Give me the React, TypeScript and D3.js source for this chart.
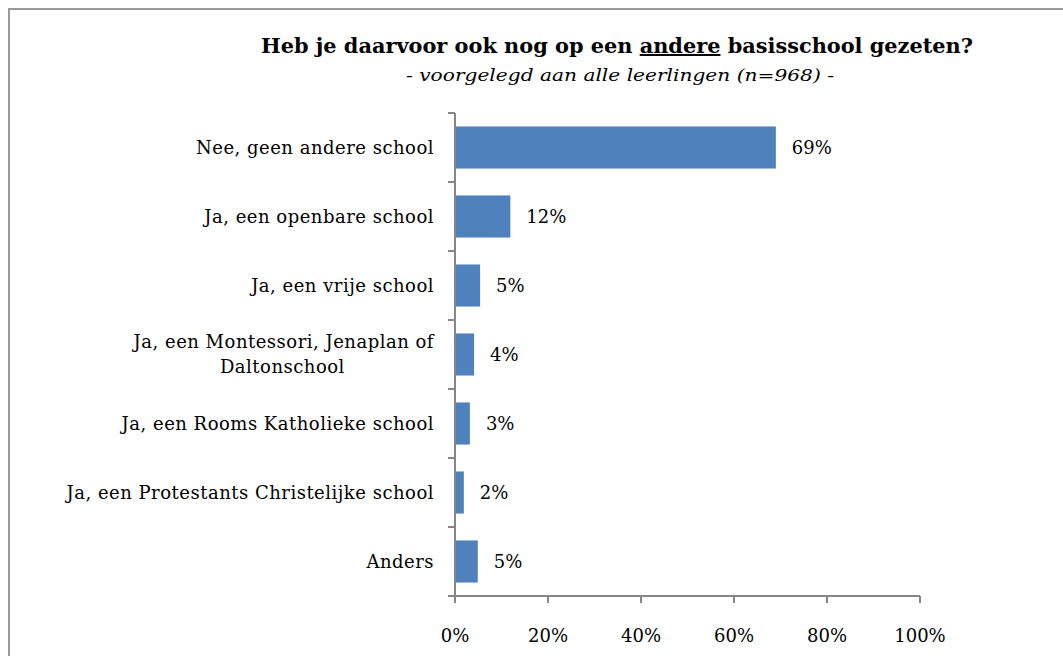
import * as d3 from 'd3';
import React, { useLayoutEffect, useRef, useState } from 'react';

// chart data
const categories = [
  "Nee, geen andere school",
  "Ja, een openbare school",
  "Ja, een vrije school",
  "Ja, een Montessori, Jenaplan of Daltonschool",
  "Ja, een Rooms Katholieke school",
  "Ja, een Protestants Christelijke school",
  "Anders"
];
const categoryLines = [
  ["Nee, geen andere school"],
  ["Ja, een openbare school"],
  ["Ja, een vrije school"],
  ["Ja, een Montessori, Jenaplan of", "Daltonschool"],
  ["Ja, een Rooms Katholieke school"],
  ["Ja, een Protestants Christelijke school"],
  ["Anders"]
];
const values = [69.0, 11.9, 5.4, 4.1, 3.2, 1.9, 4.9];
const xTicks = [0, 20, 40, 60, 80, 100];

const W = 1063;
const H = 656;
const font = "'DejaVu Serif', serif";
const axisColor = "#868686";
const barColor = "#4F81BD";
const labelSize = 18;
const labelSpacing = 0.5;

// multi-line label: block is right aligned, lines centred on each other
function CategoryLabel({ lines, xRight, cy }: { lines: string[]; xRight: number; cy: number }) {
  const ref = useRef<SVGTextElement>(null);
  const [w, setW] = useState(0);
  useLayoutEffect(() => {
    if (ref.current) setW(ref.current.getBBox().width);
  }, []);
  const lh = 25;
  if (lines.length === 1) {
    return (
      <text x={xRight} y={cy} dy="0.35em" textAnchor="end" fontFamily={font} fontSize={labelSize}
        letterSpacing={labelSpacing} fill="#000">{lines[0]}</text>
    );
  }
  const cx = xRight - w / 2;
  return (
    <g>
      {lines.map((l, j) => (
        <text key={j} ref={j === 0 ? ref : undefined}
          x={j === 0 ? xRight : cx} y={cy + (j - (lines.length - 1) / 2) * lh} dy="0.35em"
          textAnchor={j === 0 ? "end" : "middle"} fontFamily={font} fontSize={labelSize}
          letterSpacing={labelSpacing} fill="#000">{l}</text>
      ))}
    </g>
  );
}

export default function App() {
  const plot = { left: 455, right: 920, top: 113, bottom: 596 };

  const x = d3.scaleLinear().domain([0, 100]).range([plot.left, plot.right]);
  const y = d3.scaleBand<string>()
    .domain(categories)
    .range([plot.top, plot.bottom])
    .paddingInner(0.39)
    .paddingOuter(0.195);

  const step = y.step();
  const boundaries = d3.range(categories.length + 1).map(i => plot.top + i * step);

  return (
    <svg width={W} height={H} style={{ position: 'absolute', left: 0, top: 0, display: 'block' }}>
      <rect x={0} y={0} width={W} height={H} fill="white" />
      {/* chart border, runs off the right and bottom edges */}
      <rect x={9} y={9} width={W + 20} height={H + 20} fill="none" stroke="#999999" strokeWidth={2} />

      <text x={617} y={53} textAnchor="middle" fontFamily={font} fontWeight="bold" fontSize={20}
        textLength={712} lengthAdjust="spacingAndGlyphs" fill="#000">
        Heb je daarvoor ook nog op een <tspan textDecoration="underline">andere</tspan> basisschool gezeten?
      </text>
      <text x={620} y={81} textAnchor="middle" fontFamily={font} fontStyle="italic" fontSize={17}
        textLength={428} lengthAdjust="spacingAndGlyphs" fill="#000">
        - voorgelegd aan alle leerlingen (n=968) -
      </text>

      {/* bars */}
      {categories.map((c, i) => (
        <rect key={c} x={x(0)} y={y(c)} width={x(values[i]) - x(0)} height={y.bandwidth()} fill={barColor} />
      ))}

      {/* value labels */}
      {categories.map((c, i) => (
        <text key={c} x={x(values[i]) + 16} y={y(c)! + y.bandwidth() / 2} dy="0.35em"
          fontFamily={font} fontSize={labelSize} fill="#000">
          {`${Math.round(values[i])}%`}
        </text>
      ))}

      {/* y axis */}
      <line x1={plot.left} x2={plot.left} y1={plot.top} y2={plot.bottom} stroke={axisColor} strokeWidth={2} />
      {boundaries.map((b, i) => (
        <line key={i} x1={plot.left - 7} x2={plot.left} y1={b} y2={b} stroke={axisColor} strokeWidth={2} />
      ))}
      {categories.map((c, i) => (
        <CategoryLabel key={c} lines={categoryLines[i]} xRight={434} cy={y(c)! + y.bandwidth() / 2} />
      ))}

      {/* x axis */}
      <line x1={plot.left} x2={plot.right} y1={plot.bottom} y2={plot.bottom} stroke={axisColor} strokeWidth={2} />
      {xTicks.map(t => (
        <g key={t}>
          <line x1={x(t)} x2={x(t)} y1={plot.bottom} y2={plot.bottom + 7} stroke={axisColor} strokeWidth={2} />
          <text x={x(t)} y={642} textAnchor="middle" fontFamily={font} fontSize={labelSize} fill="#000">{`${t}%`}</text>
        </g>
      ))}
    </svg>
  );
}
